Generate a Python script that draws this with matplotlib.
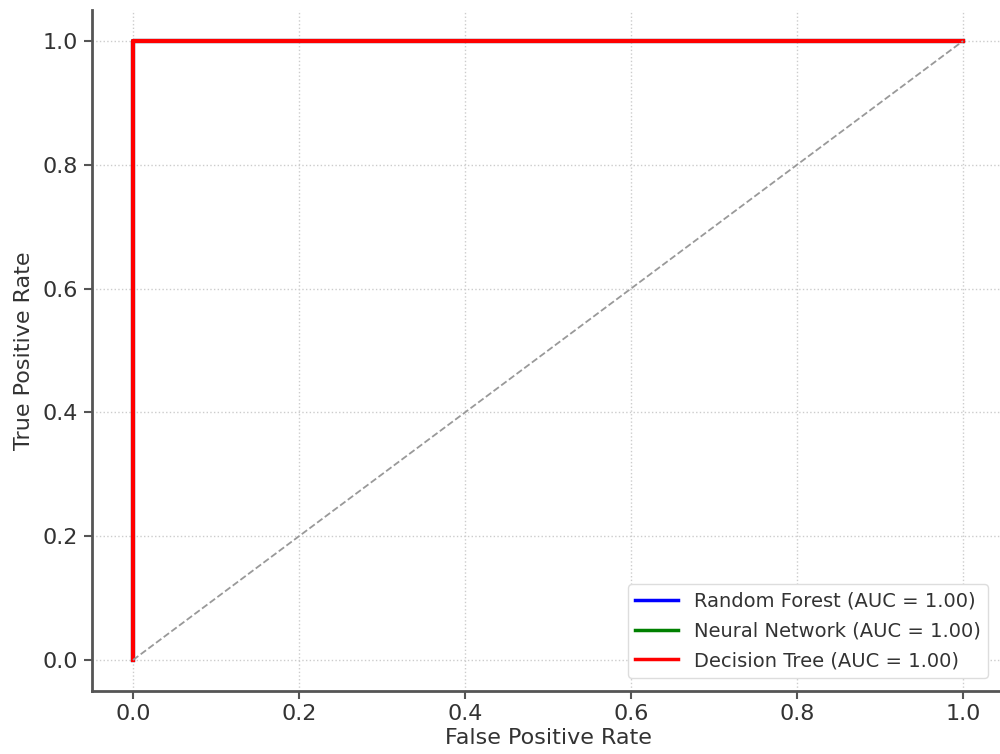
import matplotlib
matplotlib.use("Agg")
import matplotlib.pyplot as plt

# ROC points (all three models are perfect classifiers)
models = ["Random Forest", "Neural Network", "Decision Tree"]
aucs = [1.00, 1.00, 1.00]
colors = ["blue", "green", "red"]
fpr = [0.0, 0.0, 1.0]
tpr = [0.0, 1.0, 1.0]
chance = [0.0, 1.0]

fig = plt.figure(figsize=(10, 7.54), dpi=100)
ax = fig.add_axes([0.0915, 0.0836, 0.913, 0.9031])

for name, auc, c in zip(models, aucs, colors):
    ax.plot(fpr, tpr, color=c, lw=3, label=f"{name} (AUC = {auc:.2f})")
ax.plot(chance, chance, color="#999999", lw=1.3, linestyle="--")

ax.set_xlim(-0.05, 1.05)
ax.set_ylim(-0.05, 1.05)
ax.set_xticks([0.0, 0.2, 0.4, 0.6, 0.8, 1.0])
ax.set_yticks([0.0, 0.2, 0.4, 0.6, 0.8, 1.0])
ax.tick_params(labelsize=16, colors="#555555", labelcolor="#333333", width=1.5, length=6)
ax.set_xlabel("False Positive Rate", fontsize=16, color="#333333", labelpad=3)
ax.set_ylabel("True Positive Rate", fontsize=16, color="#333333", labelpad=6)
ax.grid(True, linestyle=":", color="#cccccc", lw=1)

for side in ["top", "right"]:
    ax.spines[side].set_visible(False)
for side in ["left", "bottom"]:
    ax.spines[side].set_color("#555555")
    ax.spines[side].set_linewidth(2)

leg = ax.legend(loc="lower right", fontsize=14, framealpha=1,
                bbox_to_anchor=(0.993, 0.005), handlelength=2.2, labelspacing=0.55)
leg.get_frame().set_edgecolor("#dddddd")
for line in leg.get_lines():
    line.set_linewidth(2.5)
for t in leg.get_texts():
    t.set_color("#333333")

fig.savefig("out.png", dpi=100)
